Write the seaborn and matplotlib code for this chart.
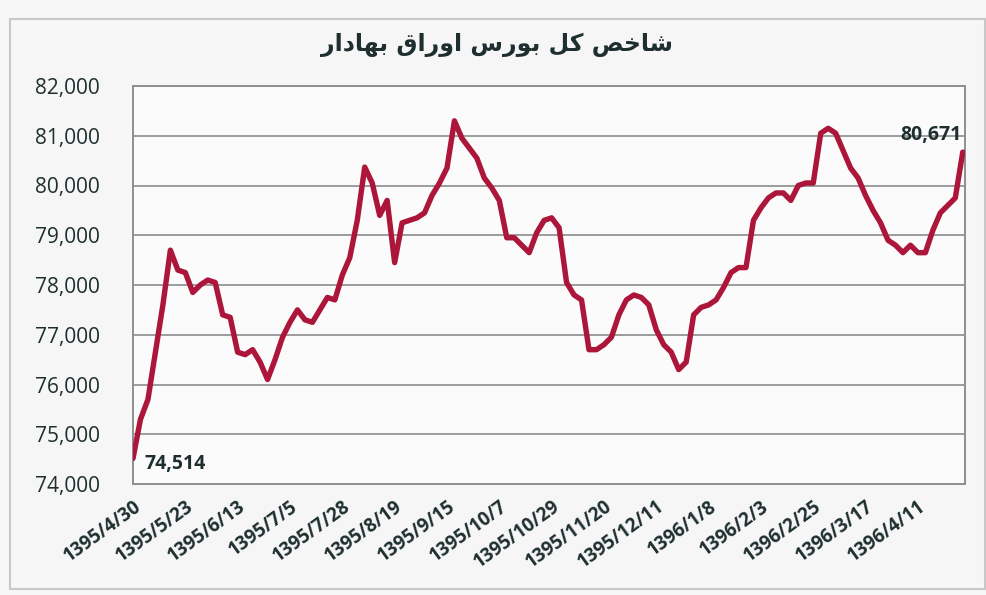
import matplotlib
matplotlib.use("Agg")
import matplotlib.pyplot as plt
import matplotlib.patches as mpatches
import seaborn as sns
import pandas as pd
from matplotlib.ticker import FuncFormatter, MultipleLocator

# ---------------- data ----------------
title_text = "شاخص کل بورس اوراق بهادار"

tick_labels = ["1395/4/30", "1395/5/23", "1395/6/13", "1395/7/5", "1395/7/28",
               "1395/8/19", "1395/9/15", "1395/10/7", "1395/10/29", "1395/11/20",
               "1395/12/11", "1396/1/8", "1396/2/3", "1396/2/25", "1396/3/17",
               "1396/4/11"]

index_values = [
    74514, 75300, 75700, 76650, 77600, 78700, 78300, 78250, 77850, 78000,
    78100, 78050, 77400, 77350, 76650, 76600, 76700, 76450, 76100, 76500,
    76950, 77250, 77500, 77300, 77250, 77500, 77750, 77700, 78200, 78550,
    79300, 80370, 80050, 79400, 79700, 78450, 79250, 79300, 79350, 79450,
    79800, 80050, 80350, 81300, 80950, 80750, 80550, 80150, 79950, 79700,
    78950, 78950, 78800, 78650, 79050, 79300, 79350, 79150, 78050, 77800,
    77700, 76700, 76700, 76800, 76950, 77400, 77700, 77800, 77750, 77600,
    77100, 76800, 76650, 76300, 76450, 77400, 77550, 77600, 77700, 77950,
    78250, 78350, 78350, 79300, 79550, 79750, 79850, 79850, 79700, 80000,
    80050, 80050, 81050, 81150, 81050, 80700, 80350, 80150, 79800, 79500,
    79250, 78900, 78800, 78650, 78800, 78650, 78650, 79100, 79450, 79600,
    79750, 80671,
]

points_per_label = 7
first_label = "74,514"
last_label = "80,671"


# ------------- simple Arabic/Persian shaping for matplotlib -------------
FORMS = {  # isolated, final, initial, medial
    "\u0627": ("\uFE8D", "\uFE8E", None, None),
    "\u0628": ("\uFE8F", "\uFE90", "\uFE91", "\uFE92"),
    "\u062E": ("\uFEA5", "\uFEA6", "\uFEA7", "\uFEA8"),
    "\u062F": ("\uFEA9", "\uFEAA", None, None),
    "\u0631": ("\uFEAD", "\uFEAE", None, None),
    "\u0633": ("\uFEB1", "\uFEB2", "\uFEB3", "\uFEB4"),
    "\u0634": ("\uFEB5", "\uFEB6", "\uFEB7", "\uFEB8"),
    "\u0635": ("\uFEB9", "\uFEBA", "\uFEBB", "\uFEBC"),
    "\u0642": ("\uFED5", "\uFED6", "\uFED7", "\uFED8"),
    "\u0644": ("\uFEDD", "\uFEDE", "\uFEDF", "\uFEE0"),
    "\u0647": ("\uFEE9", "\uFEEA", "\uFEEB", "\uFEEC"),
    "\u0648": ("\uFEED", "\uFEEE", None, None),
    "\u06A9": ("\uFB8E", "\uFB8F", "\uFB90", "\uFB91"),
}


def shape(text):
    out = []
    n = len(text)
    for k, ch in enumerate(text):
        if ch not in FORMS:
            out.append(ch)
            continue
        prev = text[k - 1] if k > 0 else None
        nxt = text[k + 1] if k < n - 1 else None
        joins_prev = prev in FORMS and FORMS[prev][2] is not None
        joins_next = nxt in FORMS and FORMS[ch][2] is not None
        iso, fin, ini, med = FORMS[ch]
        if joins_prev and joins_next:
            out.append(med)
        elif joins_prev:
            out.append(fin)
        elif joins_next:
            out.append(ini)
        else:
            out.append(iso)
    return "".join(reversed(out))


# ---------------- plot ----------------
sns.set_theme(style="white")
plt.rcParams["font.family"] = ["Open Sans", "DejaVu Sans"]

df = pd.DataFrame({"idx": list(range(len(index_values))), "value": index_values})

fig = plt.figure(figsize=(9.87, 5.95), dpi=100, facecolor="#f6f6f6")
ax = fig.add_axes([133 / 987, 1 - 484 / 595, (965 - 133) / 987, (484 - 86) / 595])
ax.set_facecolor("#fbfbfb")

# outer chart border
fig.patches.append(mpatches.Rectangle((10 / 987, 6 / 595), 975 / 987, 570 / 595,
                                      transform=fig.transFigure, fill=False,
                                      edgecolor="#c8c8c8", linewidth=1.5))

sns.lineplot(data=df, x="idx", y="value", ax=ax, color="#ad163b",
             linewidth=3.9, solid_joinstyle="round", zorder=3)

ax.set_ylim(74000, 82000)
ax.set_xlim(0, len(index_values) - 1 + 0.3)
ax.yaxis.set_major_locator(MultipleLocator(1000))
ax.yaxis.set_major_formatter(FuncFormatter(lambda v, p: f"{int(v):,}"))
ax.grid(axis="y", color="#9c9c9c", linewidth=1.4)
ax.grid(axis="x", visible=False)

tick_pos = [i * points_per_label for i in range(len(tick_labels))]
ax.set_xticks(tick_pos)
ax.set_xticklabels(tick_labels, rotation=36, ha="right", rotation_mode="anchor",
                   fontsize=13.5, fontweight="bold", color="#1f2f2f")
ax.tick_params(axis="x", length=0, pad=9)
ax.tick_params(axis="y", length=0, pad=24, labelsize=15, labelcolor="#1f2f2f")

for s in ax.spines.values():
    s.set_color("#8f8f8f")
    s.set_linewidth(1.4)

ax.set_xlabel("")
ax.set_ylabel("")

# end-point annotations
ax.annotate(first_label, xy=(0, index_values[0]), xytext=(8, -4),
            textcoords="offset points", ha="left", va="center",
            fontsize=14, fontweight="bold", color="#1f2f2f")
ax.annotate(last_label, xy=(len(index_values) - 1, index_values[-1]), xytext=(-1, 5),
            textcoords="offset points", ha="right", va="bottom",
            fontsize=14, fontweight="bold", color="#1f2f2f")

fig.text(497 / 987, 1 - 45 / 595, shape(title_text), ha="center", va="center",
         fontsize=17, fontweight="bold", color="#1f2f2f", family=["DejaVu Sans"])

fig.savefig("out.png", dpi=100, facecolor=fig.get_facecolor())
